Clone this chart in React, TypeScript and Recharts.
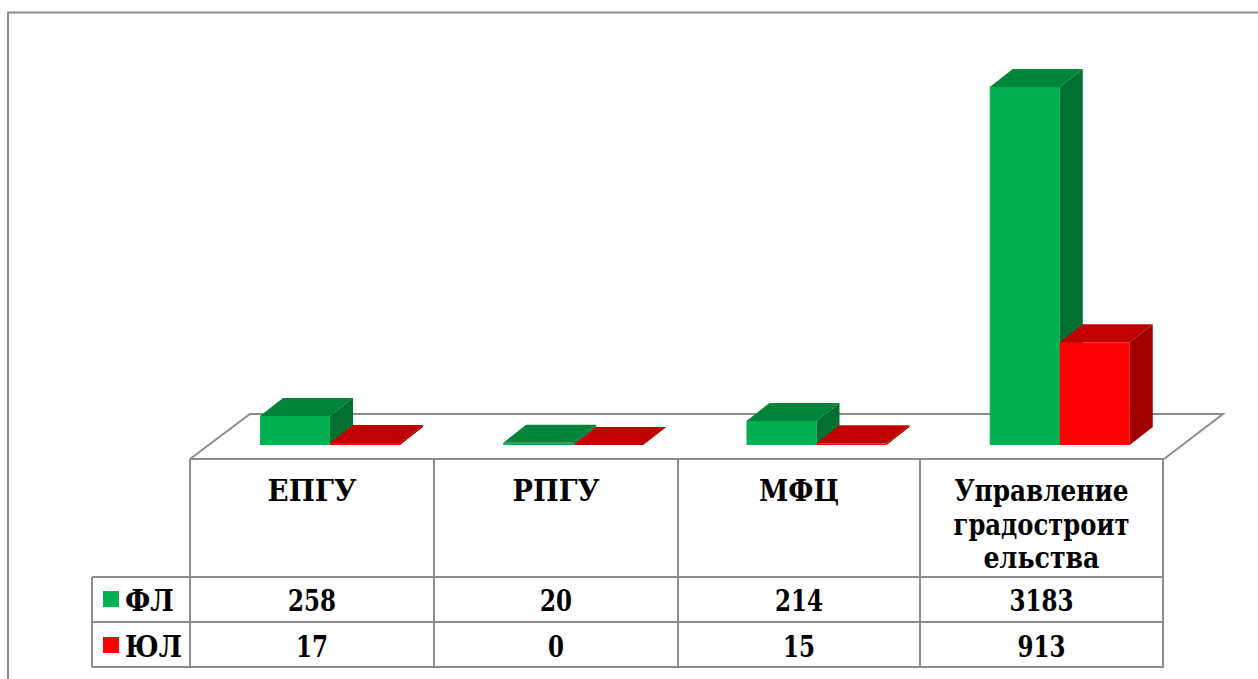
import { BarChart, Bar, XAxis, YAxis, Customized } from 'recharts';

const categories = ['ЕПГУ', 'РПГУ', 'МФЦ', 'Управление градостроительства'];
const headerLines = [['ЕПГУ'], ['РПГУ'], ['МФЦ'], ['Управление', 'градостроит', 'ельства']];
const flValues = [258, 20, 214, 3183];
const ulValues = [17, 0, 15, 913];
const seriesNames = ['ФЛ', 'ЮЛ'];

const data = categories.map((name, i) => ({ name, fl: flValues[i], ul: ulValues[i] }));

const GRID = '#8c8c8c';
const FONT = 'DejaVu Serif';
const DX = 23;
const DY = -18;

// widths of the narrow Times-like text in the original
const textWidths: Record<string, number> = {
  'ЕПГУ': 89, 'РПГУ': 87, 'МФЦ': 80,
  'Управление': 174, 'градостроит': 176, 'ельства': 116,
  'ФЛ': 49, 'ЮЛ': 57,
};
const widthOf = (t: string) => textWidths[t] ?? t.length * 16;

const make3D = (front: string, top: string, side: string) => (props: any) => {
  const { x, y, width, height } = props;
  const h = Math.max(height || 0, 0);
  const x2 = x + width;
  const yb = y + h;
  return (
    <g>
      <rect x={x} y={y} width={width} height={h} fill={front} />
      <polygon points={`${x},${y} ${x + DX},${y + DY} ${x2 + DX},${y + DY} ${x2},${y}`} fill={top} />
      <polygon points={`${x2},${y} ${x2 + DX},${y + DY} ${x2 + DX},${yb + DY} ${x2},${yb}`} fill={side} />
    </g>
  );
};

const colX = [190, 434, 678, 920, 1163];
const rowY = [459, 577, 622, 667];

const Label = ({ x, y, t, anchor = 'middle' }: { x: number; y: number; t: string; anchor?: string }) => (
  <text
    x={x}
    y={y}
    textAnchor={anchor}
    fill="#000"
    fontFamily={FONT}
    fontWeight="bold"
    fontSize={30}
    textLength={widthOf(t)}
    lengthAdjust="spacingAndGlyphs"
  >
    {t}
  </text>
);

const Floor = () => (
  <g>
    <rect x={8} y={12.5} width={1400} height={800} fill="none" stroke={GRID} strokeWidth={2} />
    <polyline points={`190,459 250,414 1223,414 1164,459`} fill="none" stroke={GRID} strokeWidth={2} />
  </g>
);

const Table = () => (
  <g>
    <line x1={190} y1={rowY[0]} x2={1164} y2={rowY[0]} stroke={GRID} strokeWidth={2} />
    {rowY.slice(1).map((y) => (
      <line key={y} x1={92} y1={y} x2={1164} y2={y} stroke={GRID} strokeWidth={2} />
    ))}
    <line x1={92} y1={rowY[1]} x2={92} y2={rowY[3]} stroke={GRID} strokeWidth={2} />
    {colX.map((x) => (
      <line key={x} x1={x} y1={rowY[0]} x2={x} y2={rowY[3]} stroke={GRID} strokeWidth={2} />
    ))}
    {headerLines.map((lines, i) =>
      lines.map((t, j) => (
        <Label key={`${i}-${j}`} x={(colX[i] + colX[i + 1]) / 2} y={501 + j * 33.5} t={t} />
      ))
    )}
    {[flValues, ulValues].map((vals, r) =>
      vals.map((v, i) => (
        <Label key={`${r}-${i}`} x={(colX[i] + colX[i + 1]) / 2} y={611 + r * 46} t={String(v)} />
      ))
    )}
    <rect x={103} y={591} width={16} height={16} fill="#00B050" />
    <rect x={103} y={637} width={16} height={16} fill="#FF0000" />
    <Label x={125} y={611} t={seriesNames[0]} anchor="start" />
    <Label x={125} y={657} t={seriesNames[1]} anchor="start" />
  </g>
);

export default function App() {
  return (
    <div style={{ position: 'absolute', left: 0, top: 0, background: '#fff' }}>
      <BarChart
        width={1258}
        height={679}
        data={data}
        margin={{ top: 40, right: 77, left: 208, bottom: 234 }}
        barGap={0}
        barSize={70}
      >
        <Customized component={Floor} />
        <XAxis dataKey="name" hide />
        <YAxis hide domain={[0, 3600]} />
        <Bar dataKey="fl" name={seriesNames[0]} isAnimationActive={false} shape={make3D('#00B050', '#00843A', '#007030')} />
        <Bar dataKey="ul" name={seriesNames[1]} isAnimationActive={false} shape={make3D('#FF0000', '#C00000', '#A00000')} />
        <Customized component={Table} />
      </BarChart>
    </div>
  );
}
